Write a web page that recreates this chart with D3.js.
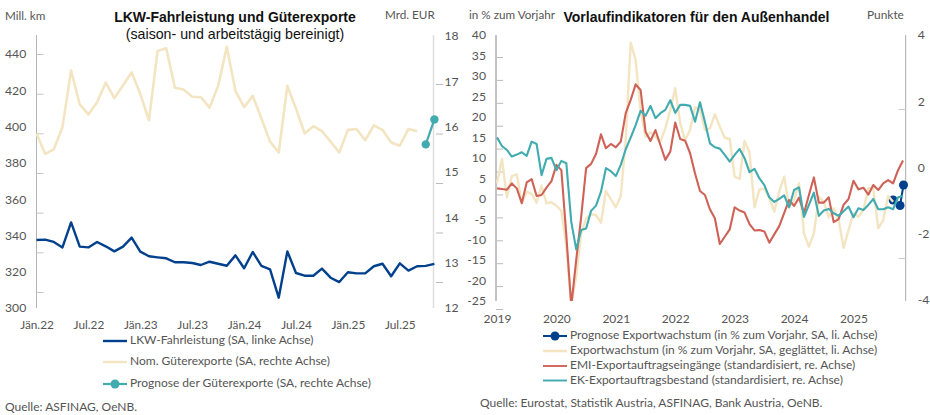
<!DOCTYPE html>
<html lang="de">

<head>
    <meta charset="utf-8" />
    <script src="https://d3js.org/d3.v7.min.js"></script>
    <style>
        body { margin: 0; background: #fff; }
        text { font-family: Lato, sans-serif; fill: #555; }
        .title { font-family: "Liberation Sans", Arial, sans-serif; fill: #111; text-anchor: middle; }
    </style>
</head>

<body>
    <script>

        const w = 930;
        const h = 415;

        // left chart, months since Jan 2022
        const truckMonthLabels = ["Jän.22", "Jul.22", "Jän.23", "Jul.23", "Jän.24", "Jul.24", "Jän.25", "Jul.25"];
        const truckKm = [337.5, 337.7, 336.4, 333.4, 347.2, 333.8, 333.4, 336.4, 334.0, 331.2, 333.8, 338.8,
            331.1, 328.5, 327.9, 327.4, 325.2, 325.2, 324.8, 323.7, 325.5, 324.4, 323.3, 329.0,
            321.9, 330.9, 323.2, 321.3, 305.7, 331.2, 319.3, 317.8, 317.8, 321.7, 316.7, 314.3,
            319.7, 319.1, 319.1, 323.0, 324.4, 317.5, 324.6, 320.6, 323.0, 323.2, 324.3];
        const goodsExports = [15.85, 15.40, 15.50, 15.99, 17.24, 16.49, 16.27, 16.54, 16.97, 16.63, 16.91, 17.20,
            16.72, 16.14, 17.67, 17.73, 16.86, 16.82, 16.66, 16.65, 16.42, 16.90, 17.76, 16.79,
            16.43, 16.68, 16.18, 15.67, 15.43, 16.90, 16.40, 15.85, 16.01, 15.90, 15.67, 15.43,
            15.93, 15.95, 15.70, 16.03, 15.93, 15.65, 15.58, 15.95, 15.90];
        const exportsForecastMonths = [45, 46];
        const exportsForecast = [15.61, 16.16];
        const kmTicks = [300, 320, 340, 360, 380, 400, 420, 440];
        const eurTicks = [12, 13, 14, 15, 16, 17, 18];
        const kmMarks = [320, 340, 360, 380, 400, 420, 440];
        const eurMarks = [13, 14, 15, 16, 17];

        // right chart, months since Jan 2019
        const yearLabels = ["2019", "2020", "2021", "2022", "2023", "2024", "2025"];
        const exportGrowth = [3.75, 9.70, 0.33, 5.54, 5.96, -1.13, 1.71, 1.14, -0.98, 3.17, -1.13, -0.88,
            -1.72, -2.94, -11.73, -26, -19.07, -8.46, -4.79, -3.82, -3.99, -5.87, 1.88, -0.15,
            -2.11, 0.66, 14.34, 38.12, 33.89, 21.43, 15.15, 16.22, 15.15, 13.93, 17.20, 21.67,
            26.97, 18.42, 14.34, 16.78, 22.33, 21.67, 16.78, 17.20, 20.62, 17.59, 14.90, 14.58,
            5.37, 4.81, 14.10, 11.33, -2.11, 2.29, 2.44, 0.17, -3.18, 1.71, 5.37, -2.11,
            -0.32, 3.76, -8.46, -11.73, -8.46, 0.48, -0.74, -4.55, -2.35, -5.21, -11.98, -7.65,
            -3.57, -4.40, -2.77, 2.54, 2.54, -7.24, -5.21, 0.65, -0.74];
        const emiOrders = [-0.63, -0.65, -0.67, -0.48, -0.63, -1.08, -0.45, -0.35, -0.86, -0.83, -0.61, -0.41,
            0.08, -0.08, -2.04, -4.18, -2.79, -1.49, -0.02, 0.11, 0.41, 1.00, 0.58, 0.71,
            0.61, 0.78, 1.64, 2.04, 2.51, 2.34, 1.08, 0.80, 1.13, 0.68, 0.23, 0.48,
            1.36, 0.86, 0.81, 0.43, -0.18, -0.71, -0.83, -1.26, -1.53, -2.31, -2.09, -1.87,
            -1.20, -1.30, -1.36, -1.71, -1.90, -1.89, -1.93, -2.27, -2.02, -1.77, -1.38, -0.98,
            -1.16, -0.91, -1.38, -0.83, -0.30, -1.06, -1.06, -0.90, -1.65, -1.56, -1.13, -0.95,
            -0.40, -0.66, -0.61, -0.82, -0.53, -0.68, -0.48, -0.38, -0.48, -0.08, 0.21];
        const ekOrders = [0.91, 0.65, 0.53, 0.33, 0.39, 0.46, 0.35, 0.78, 0.71, -0.23, 0.26, 0.29,
            -0.08, 0.20, 0.13, -1.64, -2.47, -1.89, -1.84, -1.31, -1.15, -0.73, -0.02, -0.11,
            -0.26, 0.08, 0.55, 0.90, 1.28, 1.71, 1.56, 1.86, 1.49, 1.64, 1.74, 2.03,
            1.65, 1.89, 1.89, 1.86, 1.38, 1.97, 1.37, 0.73, 0.61, 0.57, 0.38, 0.18,
            0.38, 0.56, 0.28, -0.14, -0.04, -0.33, -0.53, -0.90, -1.04, -0.95, -0.84, -1.20,
            -0.68, -0.60, -1.49, -1.13, -0.76, -1.46, -1.30, -1.25, -1.38, -1.46, -1.32, -1.18,
            -1.50, -1.23, -1.28, -1.13, -0.95, -1.26, -1.26, -1.20, -1.26, -0.90, -0.86];
        const growthForecastMonths = [80, 81.4, 82.1];
        const growthForecast = [-0.32, -1.67, 3.34];
        const growthTicks = [-25, -20, -15, -10, -5, 0, 5, 10, 15, 20, 25, 30, 35, 40];
        const pointTicks = [-4, -2, 0, 2, 4];
        const growthMarks = [-20, -15, -10, -5, 0, 5, 10, 15, 20, 25, 30, 35];
        const pointMarks = [-2, 2];

        const navy = "#00408c";
        const sand = "#f4e5c2";
        const teal = "#42abaf";
        const red = "#cf6257";

        const svg = d3.select("body")
            .append("svg")
            .attr("width", w)
            .attr("height", h);

        svg.append("clipPath").attr("id", "plot-right").append("rect")
            .attr("x", 490).attr("y", 30).attr("width", 420).attr("height", 271);

        // tick labels only, the tick marks in the original sit on their own spacing
        function labelAxis(axis, x, size) {
            const g = svg.append("g")
                .attr("transform", "translate(" + x + ",0)")
                .call(axis.tickSize(0));
            g.select(".domain").remove();
            g.selectAll("text").style("font-family", "Lato, sans-serif").style("font-size", size + "px");
            return g;
        }

        function markAxis(axis, x, color) {
            const g = svg.append("g")
                .attr("transform", "translate(" + x + ",0)")
                .call(axis.tickFormat("").tickSizeOuter(0));
            g.select(".domain").remove();
            g.selectAll("line").attr("stroke", color);
        }

        function axisLine(x, y0, y1, color, width) {
            svg.append("line")
                .attr("x1", x).attr("x2", x)
                .attr("y1", y0).attr("y2", y1)
                .attr("stroke", color)
                .attr("stroke-width", width);
        }

        function drawLine(xs, ys, xScale, yScale, color, width) {
            const line = d3.line()
                .x((d, i) => xScale(xs[i]))
                .y(d => yScale(d));
            return svg.append("path")
                .datum(ys)
                .attr("fill", "none")
                .attr("stroke", color)
                .attr("stroke-width", width)
                .attr("stroke-linejoin", "round")
                .attr("d", line);
        }

        function drawDots(xs, ys, xScale, yScale, color, r) {
            svg.selectAll(null)
                .data(ys)
                .enter()
                .append("circle")
                .attr("cx", (d, i) => xScale(xs[i]))
                .attr("cy", d => yScale(d))
                .attr("r", r)
                .attr("fill", color);
        }

        function drawText(x, y, str, size) {
            return svg.append("text")
                .attr("x", x)
                .attr("y", y)
                .attr("dominant-baseline", "middle")
                .style("font-size", size + "px")
                .text(str);
        }

        function legendRow(x, y, str, color, width, dot) {
            svg.append("line")
                .attr("x1", x).attr("x2", x + 24)
                .attr("y1", y).attr("y2", y)
                .attr("stroke", color)
                .attr("stroke-width", width);
            if (dot) {
                svg.append("circle").attr("cx", x + 12).attr("cy", y).attr("r", 4.5).attr("fill", color);
            }
            drawText(x + 27, y, str, 12);
        }

        // ---- left chart ----
        const xTruck = d3.scaleLinear().domain([0, 46]).range([36.5, 434.4]);
        const yKm = d3.scaleLinear().domain([300, 440]).range([308, 54]);
        const yEur = d3.scaleLinear().domain([12, 18]).range([308, 36]);
        const kmMarkScale = d3.scaleLinear().domain([320, 440]).range([292, 54]);
        const eurMarkScale = d3.scaleLinear().domain([13, 17]).range([282, 84]);

        axisLine(36.5, 35, 308, "#b5b5b5", 1);
        axisLine(433.5, 35, 308, "#dedede", 1.5);
        markAxis(d3.axisRight(kmMarkScale).tickValues(kmMarks).tickSize(7), 36.5, "#c4c4c4");
        markAxis(d3.axisRight(eurMarkScale).tickValues(eurMarks).tickSize(7), 436, "#bbb");

        labelAxis(d3.axisLeft(yKm).tickValues(kmTicks).tickFormat(String), 0, 12.2)
            .selectAll("text").attr("text-anchor", "start").attr("x", 5);
        labelAxis(d3.axisRight(yEur).tickValues(eurTicks).tickFormat(String).tickPadding(11), 433.5, 12.2);

        const truckMonths = truckKm.map((d, i) => i);
        const exportMonths = goodsExports.map((d, i) => i);
        drawLine(exportMonths, goodsExports, xTruck, yEur, sand, 2.6);
        drawLine(truckMonths, truckKm, xTruck, yKm, navy, 2.4);
        drawLine(exportsForecastMonths, exportsForecast, xTruck, yEur, teal, 2.2);
        drawDots(exportsForecastMonths, exportsForecast, xTruck, yEur, teal, 4.2);

        labelAxis(d3.axisBottom(xTruck)
            .tickValues(truckMonthLabels.map((d, i) => i * 6))
            .tickFormat((d, i) => truckMonthLabels[i])
            .tickPadding(11), 0, 11.8)
            .attr("transform", "translate(0,310)");

        svg.append("text").attr("class", "title").attr("x", 235).attr("y", 22)
            .style("font-weight", "bold").style("font-size", "14px").text("LKW-Fahrleistung und Güterexporte");
        svg.append("text").attr("class", "title").attr("x", 235).attr("y", 38.5)
            .style("font-size", "14.2px").text("(saison- und arbeitstägig bereinigt)");
        drawText(5, 17, "Mill. km", 11.7);
        drawText(385, 16, "Mrd. EUR", 11.7);

        legendRow(103, 341, "LKW-Fahrleistung (SA, linke Achse)", navy, 2.4, false);
        legendRow(103, 362, "Nom. Güterexporte (SA, rechte Achse)", sand, 2.4, false);
        legendRow(103, 384, "Prognose der Güterexporte (SA, rechte Achse)", teal, 2.2, true);
        drawText(5, 408, "Quelle: ASFINAG, OeNB.", 12);

        // ---- right chart ----
        const xMonth = d3.scaleLinear().domain([0, 82]).range([497, 903]);
        const yGrowth = d3.scaleLinear().domain([-25, 40]).range([301, 35]);
        const yPoints = d3.scaleLinear().domain([-4, 4]).range([300, 35]);
        const growthMarkScale = d3.scaleLinear().domain([-20, 35]).range([309, 57]);
        const pointMarkScale = d3.scaleLinear().domain([-2, 2]).range([258, 109]);

        axisLine(496, 35, 301, "#888", 1);
        axisLine(905.7, 35, 301, "#aaa", 1);
        markAxis(d3.axisRight(growthMarkScale).tickValues(growthMarks).tickSize(7), 496, "#bbb");
        markAxis(d3.axisLeft(pointMarkScale).tickValues(pointMarks).tickSize(7), 905.7, "#ccc");

        labelAxis(d3.axisLeft(yGrowth).tickValues(growthTicks).tickFormat(String).tickPadding(10), 496, 12.2);
        labelAxis(d3.axisRight(yPoints).tickValues(pointTicks).tickFormat(String).tickPadding(12), 905.7, 12.2)
            .selectAll("text").attr("text-anchor", "start");

        const months = exportGrowth.map((d, i) => i);
        const indicatorMonths = emiOrders.map((d, i) => i);
        drawLine(growthForecastMonths, growthForecast, xMonth, yGrowth, navy, 2);
        drawDots(growthForecastMonths, growthForecast, xMonth, yGrowth, navy, 4.5);
        drawLine(months, exportGrowth, xMonth, yGrowth, sand, 2.4).attr("clip-path", "url(#plot-right)");
        drawLine(indicatorMonths, emiOrders, xMonth, yPoints, red, 2.1).attr("clip-path", "url(#plot-right)");
        drawLine(indicatorMonths, ekOrders, xMonth, yPoints, teal, 2.1);

        labelAxis(d3.axisBottom(xMonth)
            .tickValues(yearLabels.map((d, i) => i * 12))
            .tickFormat((d, i) => yearLabels[i])
            .tickPadding(10), 0, 12)
            .attr("transform", "translate(0,304)");

        svg.append("text").attr("class", "title").attr("x", 696.5).attr("y", 22)
            .style("font-weight", "bold").style("font-size", "14px").text("Vorlaufindikatoren für den Außenhandel");
        drawText(469, 16, "in % zum Vorjahr", 11.7);
        drawText(867, 16, "Punkte", 11.9);

        legendRow(543, 336, "Prognose Exportwachstum (in % zum Vorjahr, SA, li. Achse)", navy, 2, true);
        legendRow(543, 351, "Exportwachstum (in % zum Vorjahr, SA, geglättet, li. Achse)", sand, 2.6, false);
        legendRow(543, 366, "EMI-Exportauftragseingänge (standardisiert, re. Achse)", red, 1.9, false);
        legendRow(543, 380.5, "EK-Exportauftragsbestand (standardisiert, re. Achse)", teal, 1.9, false);
        drawText(480, 404, "Quelle: Eurostat, Statistik Austria, ASFINAG, Bank Austria, OeNB.", 12);

    </script>
</body>

</html>
